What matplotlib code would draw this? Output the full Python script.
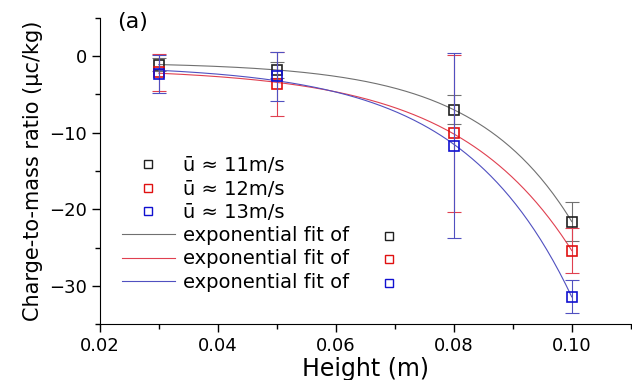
import numpy as np
import matplotlib
matplotlib.use("Agg")
import matplotlib.pyplot as plt
from matplotlib.lines import Line2D
from matplotlib.ticker import MultipleLocator

# valores (a)
altura = [0.03, 0.05, 0.08, 0.10]
q11 = [-1.1, -1.8, -7.0, -21.6]
q12 = [-2.1, -3.6, -10.1, -25.4]
q13 = [-2.3, -2.6, -11.7, -31.4]
e11 = [0.8, 1.0, 1.9, 2.5]
e12 = [2.4, 4.2, 10.2, 2.9]
e13 = [2.5, 3.2, 12.1, 2.1]
rotulos = ["ū ≈ 11m/s", "ū ≈ 12m/s", "ū ≈ 13m/s"]
cores = ["#202020", "#e01010", "#1010d0"]
cores_fit = ["#707070", "#e04050", "#5050c0"]


def ajuste_exp(x, y):
    # y = y0 + A*exp(x/t), busca em t e minimos quadrados em y0, A
    x = np.asarray(x)
    y = np.asarray(y)
    melhor = None
    for t in np.linspace(0.003, 0.1, 3000):
        M = np.column_stack([np.ones_like(x), np.exp(x / t)])
        c, *_ = np.linalg.lstsq(M, y, rcond=None)
        r = np.sum((M @ c - y) ** 2)
        if melhor is None or r < melhor[0]:
            melhor = (r, t, c)
    _, t, c = melhor
    xs = np.linspace(x.min(), x.max(), 200)
    return xs, c[0] + c[1] * np.exp(xs / t)


fig = plt.figure(figsize=(6.32, 3.8), dpi=100)
ax = fig.add_axes([0.158, 0.147, 0.84, 0.806])

series = [q11, q12, q13]
erros = [e11, e12, e13]
for y, e, c, cf in zip(series, erros, cores, cores_fit):
    xs, ys = ajuste_exp(altura, y)
    ax.plot(xs, ys, color=cf, lw=0.8)
    ax.errorbar(altura, y, yerr=e, fmt="none", ecolor=cf, elinewidth=0.8,
                capsize=5, capthick=0.8)
    ax.plot(altura, y, "s", mfc="none", mec=c, ms=7.5, mew=1.2)

ax.set_xlim(0.02, 0.11)
ax.set_ylim(-35, 5)
ax.xaxis.set_major_locator(MultipleLocator(0.02))
ax.xaxis.set_minor_locator(MultipleLocator(0.01))
ax.yaxis.set_major_locator(MultipleLocator(10))
ax.yaxis.set_minor_locator(MultipleLocator(5))
ax.set_xticks([0.02, 0.04, 0.06, 0.08, 0.10])
ax.set_xticklabels(["0.02", "0.04", "0.06", "0.08", "0.10"])
ax.tick_params(which="major", direction="out", length=6, width=1, labelsize=13)
ax.tick_params(which="minor", direction="out", length=3.5, width=1)
for lado in ["top", "right"]:
    ax.spines[lado].set_visible(False)

ax.set_xlabel("Height (m)", fontsize=17, labelpad=1)
ax.set_ylabel("Charge-to-mass ratio (μc/kg)", fontsize=15, labelpad=4)
ax.text(0.032, 1.02, "(a)", transform=ax.transAxes, fontsize=16, va="top")

# legenda no estilo do Origin
h = [Line2D([], [], ls="none", marker="s", mfc="none", mec=c, ms=5.5, mew=1)
     for c in cores]
h += [Line2D([], [], color=c, lw=0.8) for c in cores_fit]
lab = rotulos + ["exponential fit of"] * 3
leg = ax.legend(h, lab, loc="upper left", bbox_to_anchor=(0.041, 0.548),
                frameon=False, fontsize=14, handlelength=2.75, handletextpad=0.4,
                labelspacing=0.22, borderpad=0, borderaxespad=0)
ax.add_artist(leg)
h2 = [Line2D([], [], ls="none", marker="s", mfc="none", mec=c, ms=5.5, mew=1)
      for c in cores]
ax.legend(h2, ["", "", ""], loc="upper left", bbox_to_anchor=(0.527, 0.314),
          frameon=False, fontsize=14, handlelength=0.93, handletextpad=0,
          labelspacing=0.22, borderpad=0, borderaxespad=0)

fig.savefig("out.png", dpi=100)
